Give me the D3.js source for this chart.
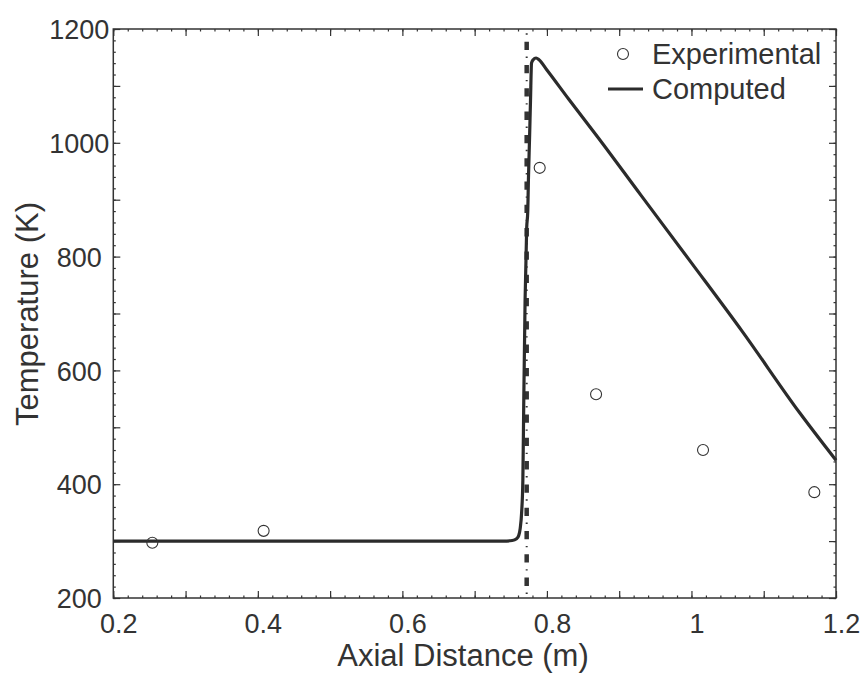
<!DOCTYPE html>
<html>
<head>
<meta charset="utf-8">
<script src="https://cdn.jsdelivr.net/npm/d3@7"></script>
<style>
  body { margin: 0; background: #fff; }
  svg text { font-family: "Liberation Sans", Arial, sans-serif; fill: #333; }
</style>
</head>
<body>
<div class="graph"></div>
<script>
// experimental points
var expX = [0.254, 0.408, 0.790, 0.868, 1.016, 1.170]
var expT = [297, 318, 956, 558, 460, 386]

// computed curve
var compX = [0.2, 0.5, 0.74, 0.752, 0.758, 0.761, 0.763, 0.765, 0.7667, 0.768, 0.7698, 0.772, 0.7735, 0.7744, 0.776, 0.7773, 0.7787, 0.781, 0.785, 0.789, 0.80, 0.83, 0.8715, 0.93, 1.0, 1.07, 1.15, 1.2]
var compT = [300, 300, 300, 301, 304, 310, 322, 350, 407, 550, 724, 850, 880, 935, 1010, 1075, 1140, 1146, 1149, 1146, 1128, 1077, 1008, 908, 789, 669, 525, 442]

// boundary marker
var interfaceX = 0.772

var xTicks = [0.2, 0.3, 0.4, 0.5, 0.6, 0.7, 0.8, 0.9, 1.0, 1.1, 1.2]
var xLabels = [0.2, 0.4, 0.6, 0.8, 1.0, 1.2]
var yTicks = [200, 300, 400, 500, 600, 700, 800, 900, 1000, 1100, 1200]
var yLabels = [200, 400, 600, 800, 1000, 1200]

var W = 864, H = 673
var pLeft = 113.3, pRight = 836, pTop = 29, pBottom = 598
var ink = "#333"

var svg = d3.select(".graph").append("svg")
  .attr("width", W).attr("height", H)

var x = d3.scaleLinear().domain([0.2, 1.2]).range([pLeft, pRight])
var y = d3.scaleLinear().domain([200, 1200]).range([pBottom, pTop])

var fmt = function(d){ return +d.toFixed(1) }
var isLab = function(arr, d){
  return arr.some(function(v){ return Math.abs(v - d) < 1e-6 })
}

// minor ticks
var minorX = d3.range(0.2, 1.2001, 0.02)
var minorY = d3.range(200, 1200.1, 20)
svg.append("g").attr("transform", "translate(0," + pBottom + ")")
  .call(d3.axisBottom(x).tickValues(minorX).tickSizeInner(-2.5).tickSizeOuter(0).tickFormat(""))
svg.append("g").attr("transform", "translate(0," + pTop + ")")
  .call(d3.axisTop(x).tickValues(minorX).tickSizeInner(-2.5).tickSizeOuter(0).tickFormat(""))
svg.append("g").attr("transform", "translate(" + pLeft + ",0)")
  .call(d3.axisLeft(y).tickValues(minorY).tickSizeInner(-2.5).tickSizeOuter(0).tickFormat(""))
svg.append("g").attr("transform", "translate(" + pRight + ",0)")
  .call(d3.axisRight(y).tickValues(minorY).tickSizeInner(-2.5).tickSizeOuter(0).tickFormat(""))

// major ticks, all four sides
var xb = svg.append("g").attr("transform", "translate(0," + pBottom + ")")
  .call(d3.axisBottom(x).tickValues(xTicks).tickSizeInner(-7).tickSizeOuter(0)
    .tickFormat(function(d){ return isLab(xLabels, d) ? fmt(d) : "" }))
xb.selectAll("text").attr("y", 35).attr("dy", 0).attr("dx", 5)
  .style("font-size", "27px")

svg.append("g").attr("transform", "translate(0," + pTop + ")")
  .call(d3.axisTop(x).tickValues(xTicks).tickSizeInner(-7).tickSizeOuter(0).tickFormat(""))

var yl = svg.append("g").attr("transform", "translate(" + pLeft + ",0)")
  .call(d3.axisLeft(y).tickValues(yTicks).tickSizeInner(-7).tickSizeOuter(0)
    .tickFormat(function(d){ return isLab(yLabels, d) ? d : "" }))
yl.selectAll("text").attr("x", -34).attr("dy", "0.36em")
  .attr("text-anchor", "middle").style("font-size", "27px")

svg.append("g").attr("transform", "translate(" + pRight + ",0)")
  .call(d3.axisRight(y).tickValues(yTicks).tickSizeInner(-7).tickSizeOuter(0).tickFormat(""))

svg.selectAll(".domain").remove()
svg.selectAll(".tick line").attr("stroke", ink).attr("stroke-width", 1.2)

// frame
svg.append("rect")
  .attr("x", pLeft).attr("y", pTop)
  .attr("width", pRight - pLeft).attr("height", pBottom - pTop)
  .attr("fill", "none").attr("stroke", ink).attr("stroke-width", 1.5)

// dash-dot vertical line
svg.append("line")
  .attr("x1", x(interfaceX)).attr("x2", x(interfaceX))
  .attr("y1", pTop + 12.7).attr("y2", pBottom)
  .attr("stroke", ink).attr("stroke-width", 4.5)
  .attr("stroke-dasharray", "8.3 15")
svg.append("line")
  .attr("x1", x(interfaceX)).attr("x2", x(interfaceX))
  .attr("y1", pTop + 4.3).attr("y2", pBottom)
  .attr("stroke", ink).attr("stroke-width", 2)
  .attr("stroke-dasharray", "1.4 21.9")

// computed line
var line = d3.line()
  .x(function(d){ return x(d[0]) })
  .y(function(d){ return y(d[1]) })
  .curve(d3.curveMonotoneX)
svg.append("path")
  .datum(d3.zip(compX, compT))
  .attr("d", line)
  .attr("fill", "none").attr("stroke", "#2b2b2b").attr("stroke-width", 3.2)
  .attr("stroke-linejoin", "round")

// experimental points
svg.selectAll("circle.exp")
  .data(d3.zip(expX, expT))
  .enter()
  .append("circle")
  .attr("class", "exp")
  .attr("cx", function(d){ return x(d[0]) })
  .attr("cy", function(d){ return y(d[1]) })
  .attr("r", 5.5)
  .attr("fill", "none").attr("stroke", ink).attr("stroke-width", 1.1)

// axis titles
svg.append("text")
  .attr("x", 463).attr("y", 666)
  .attr("text-anchor", "middle").style("font-size", "31px")
  .text("Axial Distance (m)")
svg.append("text")
  .attr("transform", "translate(38," + 314 + ") rotate(-90)")
  .attr("text-anchor", "middle").style("font-size", "31px")
  .text("Temperature (K)")

// legend
var leg = svg.append("g")
leg.append("circle").attr("cx", 623).attr("cy", 54).attr("r", 5.5)
  .attr("fill", "none").attr("stroke", ink).attr("stroke-width", 1.1)
leg.append("text").attr("x", 652).attr("y", 64).style("font-size", "29px").text("Experimental")
leg.append("line").attr("x1", 608).attr("x2", 643).attr("y1", 89).attr("y2", 89)
  .attr("stroke", "#2b2b2b").attr("stroke-width", 3.2)
leg.append("text").attr("x", 652).attr("y", 99).style("font-size", "29px").text("Computed")
</script>
</body>
</html>
